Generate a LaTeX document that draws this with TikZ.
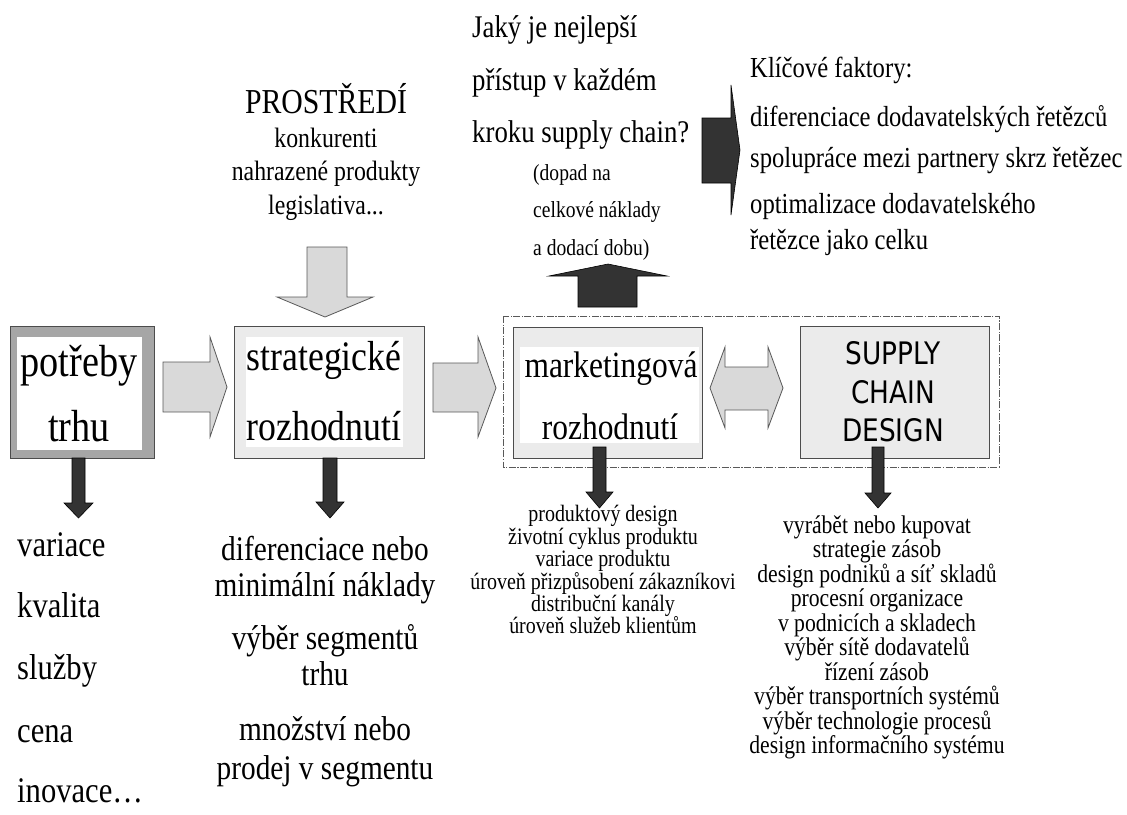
\documentclass[tikz,border=0pt]{standalone}
\usepackage{fontspec}
\setmainfont{Liberation Serif}[FakeStretch=0.85]
\newfontfamily\scdfont{DejaVu Sans}[FakeStretch=0.85]

% one line of text: name, x, y (visual middle of the line), size, text
\newcommand\tline[6][base]{%
  \node[anchor=#1, inner sep=0pt, font=\fontsize{#5}{#5}\selectfont]
    (#2) at ({#3},{#4+0.25*#5}) {#6};}

\begin{document}
\begin{tikzpicture}[x=1pt,y=-1pt,
  lightarrow/.style={fill=black!15, draw=black!65, line width=0.8pt, line join=miter},
  darkarrow/.style={fill=black!80, draw=black, line width=0.6pt, line join=miter},
  box/.style={fill=black!8, draw=black!70, line width=1pt},
  frame/.style={draw=black!65, line width=1pt, dash pattern=on 7pt off 1.5pt on 1.2pt off 1.5pt},
  scdtext/.style={anchor=base, inner sep=0pt, font=\scdfont\fontsize{31}{31}\selectfont},
]
\useasboundingbox[fill=white] (0,0) rectangle (1127,814);

% ---------- boxes ----------
% potřeby trhu
\node[fill=black!35, draw=black!70, line width=1pt, minimum width=144pt, minimum height=132pt, inner sep=0pt]
  (need) at (82,392) {};
\fill[white] (17,337) rectangle (142,450);
\tline{needa}{79}{365}{45}{potřeby}
\tline{needb}{79}{430}{45}{trhu}

% strategické rozhodnutí
\node[box, minimum width=190pt, minimum height=132pt, inner sep=0pt] (strat) at (329,392) {};
\fill[white] (246,337) rectangle (403,447);
\tline{strata}{324}{360}{42}{strategické}
\tline{stratb}{324}{430}{42}{rozhodnutí}

% dash-dotted frame around marketing and supply chain design
\draw[frame] (503,316) rectangle (999,467);

% marketingová rozhodnutí
\node[box, minimum width=189pt, minimum height=131pt, inner sep=0pt] (mark) at (607.5,392.5) {};
\fill[white] (520,347) rectangle (699,443);
\tline{marka}{611}{368}{37}{marketingová}
\tline{markb}{610}{430}{37}{rozhodnutí}

% SUPPLY CHAIN DESIGN
\node[box, minimum width=189pt, minimum height=132pt, inner sep=0pt] (scd) at (894.5,392) {};
\node[scdtext] (scda) at (893,{353+11}) {SUPPLY};
\node[scdtext] (scdb) at (893,{392+11}) {CHAIN};
\node[scdtext] (scdc) at (893,{430+11}) {DESIGN};

% ---------- light block arrows ----------
\draw[lightarrow] (163,362) -- (210,362) -- (210,337) -- (227,387) -- (210,437) -- (210,412) -- (163,412) -- cycle;
\draw[lightarrow] (433,363) -- (478,363) -- (478,337) -- (496,388) -- (478,437) -- (478,412) -- (433,412) -- cycle;
\draw[lightarrow] (307,247) -- (347,247) -- (347,297) -- (373,297) -- (325,317) -- (277,297) -- (307,297) -- cycle;
\draw[lightarrow] (710,388) -- (725,347) -- (725,367) -- (768,367) -- (768,347) -- (783,388)
  -- (768,428) -- (768,410) -- (725,410) -- (725,428) -- cycle;

% ---------- dark block arrows ----------
\draw[darkarrow] (578,307) -- (578,276) -- (549,276) -- (608,264) -- (667,276) -- (637,276) -- (637,307) -- cycle;
\draw[darkarrow] (702,118) -- (731,118) -- (731,85) -- (740,150) -- (731,215) -- (731,183) -- (702,183) -- cycle;
\draw[darkarrow] (72,458) -- (85,458) -- (85,503) -- (93,503) -- (78.5,518) -- (64,503) -- (72,503) -- cycle;
\draw[darkarrow] (323,458) -- (337,458) -- (337,502) -- (344,502) -- (330,518) -- (316,502) -- (323,502) -- cycle;
\draw[darkarrow] (593,447) -- (606,447) -- (606,492) -- (613,492) -- (599.5,508) -- (586,492) -- (593,492) -- cycle;
\draw[darkarrow] (872,447) -- (884,447) -- (884,493) -- (891,493) -- (878,508) -- (865,493) -- (872,493) -- cycle;

% ---------- environment ----------
\tline{enva}{326}{105}{35}{PROSTŘEDÍ}
\tline{envb}{326}{140}{28}{konkurenti}
\tline{envc}{326}{173}{28}{nahrazené produkty}
\tline{envd}{326}{207}{28}{legislativa...}

% ---------- question ----------
\tline[base west]{qa}{472}{30}{31.5}{Jaký je nejlepší}
\tline[base west]{qb}{472}{83}{31.5}{přístup v každém}
\tline[base west]{qc}{472}{135}{31.5}{kroku supply chain?}
\tline[base west]{da}{533}{175}{23}{(dopad na}
\tline[base west]{db}{533}{212}{23}{celkové náklady}
\tline[base west]{dc}{533}{250}{23}{a dodací dobu)}

% ---------- key factors ----------
\tline[base west]{ka}{750}{70}{29}{Klíčové faktory:}
\tline[base west]{kb}{750}{119}{29}{diferenciace dodavatelských řetězců}
\tline[base west]{kc}{750}{160}{29}{spolupráce mezi partnery skrz řetězec}
\tline[base west]{kd}{750}{206}{29}{optimalizace dodavatelského}
\tline[base west]{ke}{750}{242}{29}{řetězce jako celku}

% ---------- market needs ----------
\tline[base west]{na}{17}{547}{36}{variace}
\tline[base west]{nb}{17}{608}{36}{kvalita}
\tline[base west]{nc}{17}{670}{36}{služby}
\tline[base west]{nd}{17}{733}{36}{cena}
\tline[base west]{ne}{17}{793}{36}{inovace…}

% ---------- strategic decisions ----------
\tline{sa}{325}{552}{34.5}{diferenciace nebo}
\tline{sb}{325}{588}{34.5}{minimální náklady}
\tline{sc}{325}{641}{34.5}{výběr segmentů}
\tline{sd}{325}{677}{34.5}{trhu}
\tline{se}{325}{732}{34.5}{množství nebo}
\tline{sf}{325}{771}{34.5}{prodej v segmentu}

% ---------- marketing decisions ----------
\foreach \t [count=\i from 0] in {produktový design, životní cyklus produktu, variace produktu,
  úroveň přizpůsobení zákazníkovi, distribuční kanály, úroveň služeb klientům}{
  \tline{m\i}{603}{516+22.4*\i}{23.5}{\t}
}

% ---------- supply chain design decisions ----------
\foreach \t [count=\i from 0] in {vyrábět nebo kupovat, strategie zásob, design podniků a síť skladů,
  procesní organizace, v podnicích a skladech, výběr sítě dodavatelů, řízení zásob,
  výběr transportních systémů, výběr technologie procesů, design informačního systému}{
  \tline{c\i}{877}{527+24.5*\i}{25.5}{\t}
}
\end{tikzpicture}
\end{document}
